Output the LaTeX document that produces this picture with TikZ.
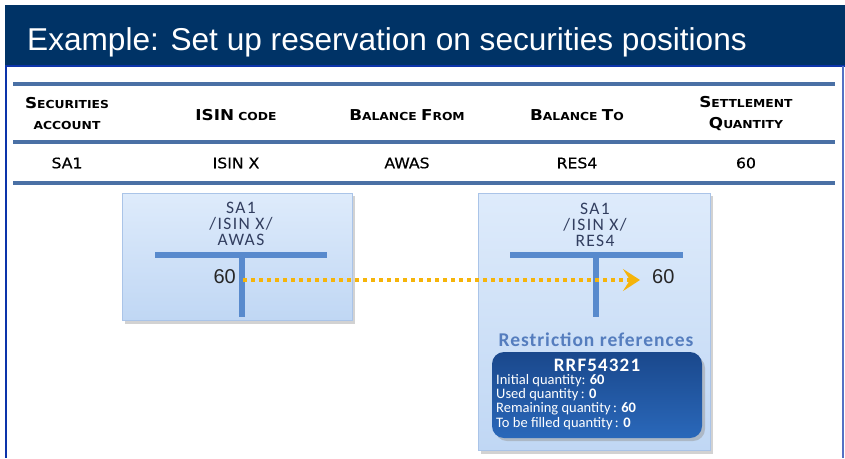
\documentclass[tikz,border=0pt]{standalone}
\usepackage{fontspec}
\setmainfont{Liberation Sans}
\newfontfamily\hdrfont[FakeStretch=1.12]{DejaVu Sans}
\newfontfamily\cellfont[FakeStretch=1.08,FakeBold=0.5]{DejaVu Sans}
\newfontfamily\boxfont[LetterSpace=8]{Carlito}
\newfontfamily\calfont{Carlito}
\usetikzlibrary{arrows.meta}
\definecolor{titlebg}{RGB}{0,51,102}
\definecolor{frameblue}{RGB}{12,52,170}
\definecolor{rulec}{RGB}{74,112,165}
\definecolor{tbar}{RGB}{88,138,205}
\definecolor{boxtop}{RGB}{222,235,251}
\definecolor{boxbot}{RGB}{192,215,244}
\definecolor{boxedge}{RGB}{170,196,232}
\definecolor{boxtxt}{RGB}{50,62,95}
\definecolor{restr}{RGB}{85,125,190}
\definecolor{darktop}{RGB}{26,72,140}
\definecolor{darkbot}{RGB}{42,104,186}
\definecolor{arrowc}{RGB}{245,180,10}
\newcommand\hb[1]{{\fontsize{15}{21}\selectfont #1}}
\newcommand\hs[1]{{\fontsize{11}{21}\selectfont #1}}
\tikzset{
  hdr/.style={font=\hdrfont\bfseries\fontsize{15}{21}\selectfont, text=black, inner sep=0pt, align=center},
  cell/.style={font=\cellfont\fontsize{14.5}{17}\selectfont, text=black, inner sep=0pt},
  tbarline/.style={draw=tbar, line width=6pt},
  tbox/.style={draw=boxedge, line width=0.8pt, top color=boxtop, bottom color=boxbot},
  tshadow/.style={fill=black!35, opacity=0.5},
  acct/.style={font=\boxfont\fontsize{17.5}{16}\selectfont, text=boxtxt, align=center, inner sep=0pt},
  qty/.style={font=\fontsize{20}{20}\selectfont, text=black!85, inner sep=0pt},
  tablerule/.style={draw=rulec, line width=4pt},
  resline/.style={font=\calfont\fontsize{14.5}{14.3}\selectfont, text=white, align=left, inner sep=0pt}
}
\begin{document}
\begin{tikzpicture}[x=1pt,y=-1pt]
\useasboundingbox (0,0) rectangle (845,458);
% frame
\fill[white] (0,0) rectangle (845,458);
\fill[titlebg] (5,5) rectangle (845,66);
\draw[frameblue, line width=2pt] (6,66) -- (6,458);
\draw[frameblue, line width=2pt] (5,66) -- (845,66);
\draw[frameblue!70, line width=1.5pt] (843,66) -- (843,458);
\node[anchor=base west, text=white, font=\fontsize{31.6}{33}\selectfont, inner sep=0pt] (title) at (27,50) {Example: Set up reservation on securities positions};
% table
\coordinate (r1l) at (13,84); \coordinate (r1r) at (835,84);
\coordinate (r2l) at (13,142); \coordinate (r2r) at (835,142);
\coordinate (r3l) at (13,183); \coordinate (r3r) at (835,183);
\draw[tablerule] (r1l) -- (r1r);
\draw[tablerule, line width=3.5pt] (r2l) -- (r2r);
\draw[tablerule] (r3l) -- (r3r);
\node[hdr] (h1) at (67,114) {\hb{S}\hs{ECURITIES}\\\hs{ACCOUNT}};
\node[hdr] (h2) at (236,115) {\hb{ISIN}\hs{ CODE}};
\node[hdr] (h3) at (407,115) {\hb{B}\hs{ALANCE }\hb{F}\hs{ROM}};
\node[hdr] (h4) at (577,115) {\hb{B}\hs{ALANCE }\hb{T}\hs{O}};
\node[hdr] (h5) at (746,114) {\hb{S}\hs{ETTLEMENT}\\\hb{Q}\hs{UANTITY}};
\node[cell] (d1) at (67,163) {SA1};
\node[cell] (d2) at (236,163) {ISIN X};
\node[cell] (d3) at (407,163) {AWAS};
\node[cell] (d4) at (577,163) {RES4};
\node[cell] (d5) at (746,163) {60};
% box 1
\fill[tshadow] (125,196) rectangle (355,324);
\draw[tbox] (122,193) rectangle (352,320);
\node[acct] (a1) at (241,224) {SA1\\/ISIN X/\\AWAS};
\draw[tbarline] (155,255) -- (327,255);
\draw[tbarline] (242,255) -- (242,317);
\node[qty, anchor=east] (q1) at (236,277) {60};
% box 2
\fill[tshadow] (481,196) rectangle (713,454);
\draw[tbox] (478,193) rectangle (710,450);
\node[acct] (a2) at (595,225) {SA1\\/ISIN X/\\RES4};
\draw[tbarline] (510,255) -- (683,255);
\draw[tbarline] (596,255) -- (596,317);
\node[qty, anchor=west] (q2) at (652,277) {60};
% arrow
\draw[arrowc, line width=3.5pt, dash pattern=on 4pt off 4pt,
  -{Stealth[length=17pt,width=22pt,inset=7pt]}] (q1.east) ++(7,3) coordinate (s) -- (640,280) coordinate (e);
% restriction references
\node[font=\calfont\bfseries\fontsize{19.5}{20}\selectfont, text=restr, inner sep=0pt] (rr) at (596,340) {\addfontfeature{LetterSpace=5}Restriction references};
\fill[black!40, opacity=0.5, rounded corners=12pt] (495,356) rectangle (705,441);
\shade[top color=darktop, bottom color=darkbot, rounded corners=12pt] (492,352) rectangle (702,438);
\node[font=\calfont\bfseries\fontsize{19}{20}\selectfont, text=white, inner sep=0pt] (rid) at (597,365) {\addfontfeature{LetterSpace=6}RRF54321};
\node[resline, anchor=north west] (rl) at (496,374) {Initial quantity: \textbf{60}\\Used quantity\,: \textbf{0}\\Remaining quantity\,: \textbf{60}\\To be filled quantity\,: \textbf{0}};
\end{tikzpicture}
\end{document}
